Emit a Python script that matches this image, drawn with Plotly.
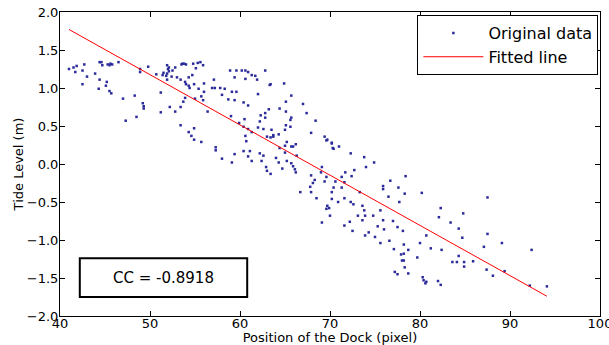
import plotly.graph_objects as go

# Original data
pos_x = [
    41.0, 41.5, 41.85, 41.7, 42.5, 42.7, 43.0, 42.5, 43.9, 44.4, 44.6, 44.7, 45.3, 45.5, 45.6, 45.8, 46.5,
    44.4, 45.2, 45.1, 44.3, 45.5, 45.7, 47.0, 48.3, 49.2, 49.3, 49.3, 48.5, 47.3, 48.9, 49.8, 48.9, 50.7,
    51.2, 51.2, 51.9, 52.0, 52.1, 52.1, 51.9, 51.8, 51.9, 51.5, 51.4, 52.2,
    53.6, 53.8, 53.5, 54.0, 54.8, 55.3, 55.6, 55.9, 55.1, 52.5, 52.8, 52.4, 53.0, 53.4, 53.9, 54.3, 54.7,
    54.0, 54.3, 54.4, 54.9, 55.4, 56.0, 56.0, 55.7, 57.1, 56.9, 57.2, 57.8, 58.3, 58.0, 58.9, 59.6, 60.2,
    60.6, 60.9, 61.3, 61.7, 61.9, 62.8, 63.4, 59.4, 60.6, 59.1, 59.6, 59.4, 58.7, 60.4, 60.9, 62.0, 62.3,
    62.8, 63.2, 52.8, 53.4, 53.7, 53.9, 55.0, 55.9, 56.4, 53.4, 54.3, 54.6, 54.9, 55.7, 59.0, 59.9, 60.5,
    60.4, 60.9, 61.3, 62.0, 62.2, 62.6, 63.0, 63.4, 63.7, 60.6, 60.7, 62.8,
    63.3, 64.9, 65.7, 65.1, 64.4, 65.1, 65.7, 65.6, 67.0, 67.4, 68.4, 65.1, 65.6, 65.0, 63.5, 64.3, 63.7,
    67.9, 69.4, 69.7, 70.2, 71.0, 70.3, 72.3, 65.2, 65.0, 65.7, 65.9, 66.2, 64.4, 65.0, 66.3, 64.0, 64.3,
    65.2, 65.7,
    54.9, 57.3, 57.3, 58.0, 59.1, 59.4, 60.4, 61.1, 60.9, 61.3, 62.2, 62.6, 62.4, 62.9, 63.0,
    69.6, 70.2, 70.4, 73.8, 74.9, 64.7, 65.9, 66.1, 66.2, 63.4, 69.1, 67.9, 68.3, 68.1, 67.8, 69.6, 69.4,
    69.0, 70.6, 71.3, 71.7, 72.4, 72.7, 70.4, 71.3, 70.2, 66.7, 67.9, 68.5, 70.2, 70.9, 71.6, 72.3, 72.6,
    73.3, 73.8, 73.6, 69.7, 69.6, 69.9, 70.0, 69.1, 71.6, 72.2, 73.1, 73.6, 73.9, 74.8,
    74.0, 71.6, 78.4, 76.7, 75.9, 75.9, 77.6, 78.3, 80.2, 76.5, 77.7, 75.6, 75.9, 77.0, 82.3, 82.1, 75.3,
    76.0, 77.5, 78.1, 72.5, 74.3, 73.9, 75.0, 80.7,
    84.8, 83.4, 84.3, 84.7, 87.5, 87.1, 81.2, 82.4, 80.0, 75.6, 76.6, 77.1, 78.2, 78.2, 77.9, 78.7, 78.0,
    78.2, 78.3, 79.7, 77.2, 77.5, 78.7, 80.3, 80.4, 80.7, 80.6, 82.0, 82.3, 84.3, 83.6, 84.1, 84.9, 84.9,
    85.9, 87.4,
    87.5, 89.1, 92.4, 88.1, 89.4, 92.2, 94.1,
]
tide_y = [
    1.25, 1.27, 1.29, 1.21, 1.23, 1.31, 1.15, 1.05, 1.19, 1.34, 1.34, 1.30, 1.31, 1.30, 1.32, 1.31, 1.34,
    1.11, 1.08, 1.03, 0.99, 0.96, 0.93, 0.86, 0.90, 0.80, 0.76, 0.73, 0.62, 0.57, 1.25, 1.28, 1.21, 1.18,
    0.94, 0.68, 1.30, 1.25, 1.27, 1.22, 1.19, 1.16, 1.11, 1.20, 1.17, 0.75,
    1.32, 1.32, 1.31, 1.31, 1.32, 1.33, 1.34, 1.30, 1.26, 1.23, 1.27, 1.15, 1.14, 1.11, 1.08, 1.14, 1.17,
    1.05, 1.03, 1.00, 1.05, 0.99, 1.06, 0.95, 0.89, 1.11, 1.00, 1.00, 1.00, 0.99, 0.91, 1.23, 1.23, 1.23,
    1.23, 1.21, 1.17, 1.16, 1.11, 1.23, 1.05, 1.14, 1.12, 0.95, 0.95, 0.84, 0.85, 0.81, 0.77, 0.92, 0.64,
    0.67, 0.72, 0.69, 0.75, 0.82, 0.87, 0.86, 0.84, 0.69, 0.51, 0.42, 0.37, 0.47, 0.29, 0.63, 0.54, 0.59,
    0.49, 0.46, 0.42, 0.48, 0.56, 0.46, 0.36, 0.35, 0.38, 0.37, 0.30, 0.61,
    1.04, 1.06, 0.90, 0.82, 0.73, 0.69, 0.61, 0.58, 0.79, 0.67, 0.57, 0.51, 0.49, 0.45, 0.45, 0.39, 0.36,
    0.41, 0.36, 0.32, 0.28, 0.23, 0.21, 0.14, 0.29, 0.24, 0.23, 0.23, 0.26, 0.21, 0.15, 0.11, 0.08, 0.02,
    0.04, 0.01,
    0.32, 0.22, 0.18, 0.07, 0.02, 0.13, 0.17, 0.17, 0.10, 0.04, 0.14, 0.11, 0.04, -0.04, -0.09,
    0.31, 0.27, 0.20, 0.09, 0.02, -0.06, -0.03, -0.07, -0.11, -0.13, -0.04, -0.15, -0.21, -0.25, -0.30, -0.17, -0.23,
    -0.11, -0.23, -0.17, -0.11, -0.16, -0.08, -0.31, -0.31, -0.37, -0.37, -0.37, -0.45, -0.46, -0.50, -0.45, -0.50, -0.53,
    -0.37, -0.61, -0.55, -0.55, -0.59, -0.58, -0.68, -0.77, -0.81, -0.76, -0.68, -0.74, -0.68, -0.68,
    -0.04, -0.24, -0.16, -0.22, -0.29, -0.33, -0.31, -0.39, -0.38, -0.43, -0.50, -0.61, -0.74, -0.75, -0.58, -0.70, -0.82,
    -0.86, -0.83, -0.88, -0.88, -0.90, -0.94, -0.96, -0.94,
    -0.65, -0.77, -0.85, -0.97, -0.92, -1.09, -1.11, -1.13, -1.04, -1.04, -1.01, -1.12, -1.06, -1.18, -1.19, -1.13, -1.27,
    -1.27, -1.36, -1.23, -1.42, -1.45, -1.44, -1.49, -1.53, -1.55, -1.57, -1.54, -1.59, -1.21, -1.29, -1.29, -1.29, -1.35,
    -1.28, -1.39,
    -0.44, -1.04, -1.13, -1.47, -1.41, -1.60, -1.61,
]

# Fitted line end points
fit_x = [41.0, 94.1]
fit_y = [1.77, -1.74]

cc_text = "CC = -0.8918"
x_ticks = [40, 50, 60, 70, 80, 90, 100]
y_ticks = [-2.0, -1.5, -1.0, -0.5, 0.0, 0.5, 1.0, 1.5, 2.0]

FONT = "DejaVu Sans"

fig = go.Figure()
fig.add_trace(go.Scatter(
    x=pos_x, y=tide_y, mode="markers", name="Original data",
    marker=dict(symbol="square", size=2.5, color="#2a2a9a", line=dict(width=0)),
))
fig.add_trace(go.Scatter(
    x=fit_x, y=fit_y, mode="lines", name="Fitted line",
    line=dict(color="red", width=1),
))

# CC box
fig.add_shape(type="rect", xref="x", yref="y", x0=42.2, x1=60.8, y0=-1.75, y1=-1.24,
              line=dict(color="black", width=2), fillcolor="white", layer="above")
fig.add_annotation(x=51.5, y=-1.495, xref="x", yref="y", text=cc_text, showarrow=False,
                   font=dict(family=FONT, size=15, color="black"))

axis_common = dict(
    showline=True, linecolor="black", linewidth=1, mirror="allticks",
    ticks="inside", ticklen=5, tickcolor="black", tickwidth=1,
    showgrid=False, zeroline=False, automargin=False,
    ticklabeloverflow="allow",
    tickfont=dict(family=FONT, size=13, color="black"),
)

fig.update_xaxes(range=[40, 100], tickvals=x_ticks, ticktext=[str(v) for v in x_ticks],
                 ticklabelstandoff=-5,
                 title=dict(text="Position of the Dock (pixel)", font=dict(family=FONT, size=13, color="black"),
                            standoff=2),
                 **axis_common)
fig.update_yaxes(range=[-2, 2], tickvals=y_ticks, tickformat=".1f",
                 ticklabelstandoff=-2,
                 title=dict(text="Tide Level (m)", font=dict(family=FONT, size=13, color="black"),
                            standoff=0),
                 **axis_common)

fig.update_layout(
    width=609, height=345,
    margin=dict(l=60, r=9, t=12, b=29),
    paper_bgcolor="white", plot_bgcolor="white",
    font=dict(family=FONT, color="black"),
    showlegend=True,
    legend=dict(x=0.997, y=0.99, xanchor="right", yanchor="top",
                bgcolor="white", bordercolor="black", borderwidth=1,
                font=dict(family=FONT, size=16, color="black"),
                itemwidth=60, tracegroupgap=0),
)

# remove the default page margin so the figure fills the window exactly
fig.write_html("out.html", config={"displayModeBar": False},
               post_script="document.body.style.margin='0';document.body.style.overflow='hidden';")
